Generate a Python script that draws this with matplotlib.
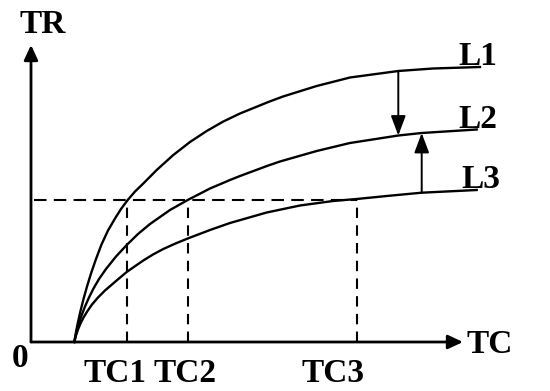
import matplotlib
matplotlib.use("Agg")
import matplotlib.pyplot as plt
import numpy as np

# TC / TR curves (origin at the axes corner)
l1_tc = [43.3, 45, 47, 49.5, 52.5, 56, 60, 65, 70.5, 77, 84, 90, 96.7, 104, 112.3,
         125.7, 142.3, 159, 175.7, 192.3, 209, 237.3, 252, 285.7, 319, 367.3, 402, 449]
l1_tr = [0, 10, 20, 31, 43, 55.5, 68.5, 83, 97.5, 111.5, 123.5, 133, 142, 150.5, 158.5,
         172, 187, 200, 211, 220.5, 228.5, 240, 245.5, 256, 264.5, 271, 273.5, 275]

l2_tc = [43.3, 44.8, 46.7, 50, 54, 58, 62.5, 68, 75, 85, 95.7, 107, 119, 139, 156.7,
         179, 199, 209, 237.3, 249, 285.7, 319, 367.3, 390.7, 445.7]
l2_tr = [0, 7, 14.5, 25, 35.5, 44.5, 53.5, 63, 73, 85.5, 97, 108, 118, 132, 142,
         153.5, 162, 166, 176.5, 180.5, 191, 199, 206.5, 209, 212.5]

l3_tc = [43.3, 44.8, 47, 49.5, 52.5, 56.5, 61, 67, 74, 85, 95.7, 105, 112.3, 122,
         132.3, 144, 156.7, 179, 199, 235.7, 269, 302, 325.7, 355.7, 390.7, 445.7]
l3_tr = [0, 6, 12.5, 18.5, 24.5, 31, 37.5, 44.5, 51.5, 61, 70, 76.5, 81.5, 87.5,
         93, 98.3, 103.5, 112, 119, 129.5, 136.5, 141, 143, 146, 149.3, 152]

tr_level = 142
tc_marks = [95.7, 156.7, 325.7]
tc_labels = ["TC1", "TC2", "TC3"]
tc_label_x = [84, 154, 302.5]

curve_names = ["L1", "L2", "L3"]
curve_label_pos = [(446.5, 277), (447, 214), (450, 154)]

x_axis_end = 432
y_axis_end = 297

fnt = dict(family="Liberation Serif", fontweight="bold", fontsize=24)

fig = plt.figure(figsize=(5.5, 3.91), dpi=100)
ax = fig.add_axes([0, 0, 1, 1])
ax.set_xlim(-31, 519)
ax.set_ylim(-49, 342)
ax.axis("off")

# axes with arrow heads
axis_arrow = dict(arrowstyle="-|>,head_length=0.9,head_width=0.42", lw=2.0,
                  color="black", shrinkA=0, shrinkB=0, mutation_scale=10)
ax.annotate("", xy=(x_axis_end, 0), xytext=(0, 0), arrowprops=axis_arrow)
ax.annotate("", xy=(0, y_axis_end), xytext=(0, 0), arrowprops=axis_arrow)

# curves
for xs, ys in [(l1_tc, l1_tr), (l2_tc, l2_tr), (l3_tc, l3_tr)]:
    ax.plot(xs, ys, color="black", lw=1.7, solid_joinstyle="round")

# dashed guides
ax.plot([3, tc_marks[-1]], [tr_level, tr_level], color="black", lw=1.5,
        dashes=(6, 3.5))
for xm in tc_marks:
    ax.plot([xm, xm], [0, tr_level], color="black", lw=1.5, dashes=(5, 3.5))

# shift arrows between curves
shift_arrow = dict(arrowstyle="-|>,head_length=1.2,head_width=0.45", lw=1.4,
                   color="black", shrinkA=0, shrinkB=0, mutation_scale=10)
xd = 367.3
ax.annotate("", xy=(xd, np.interp(xd, l2_tc, l2_tr)),
            xytext=(xd, np.interp(xd, l1_tc, l1_tr)), arrowprops=shift_arrow)
xu = 390.7
ax.annotate("", xy=(xu, np.interp(xu, l2_tc, l2_tr)),
            xytext=(xu, np.interp(xu, l3_tc, l3_tr)), arrowprops=shift_arrow)

# labels
ax.text(12, 309, "TR", ha="center", va="baseline", **fnt)
ax.text(459, -11, "TC", ha="center", va="baseline", **fnt)
ax.text(-10.5, -25, "0", ha="center", va="baseline", **fnt)
for lab, lx in zip(tc_labels, tc_label_x):
    ax.text(lx, -40, lab, ha="center", va="baseline", **fnt)
for name, (lx, ly) in zip(curve_names, curve_label_pos):
    ax.text(lx, ly, name, ha="center", va="baseline", **fnt)

fig.savefig("out.png", dpi=100)
